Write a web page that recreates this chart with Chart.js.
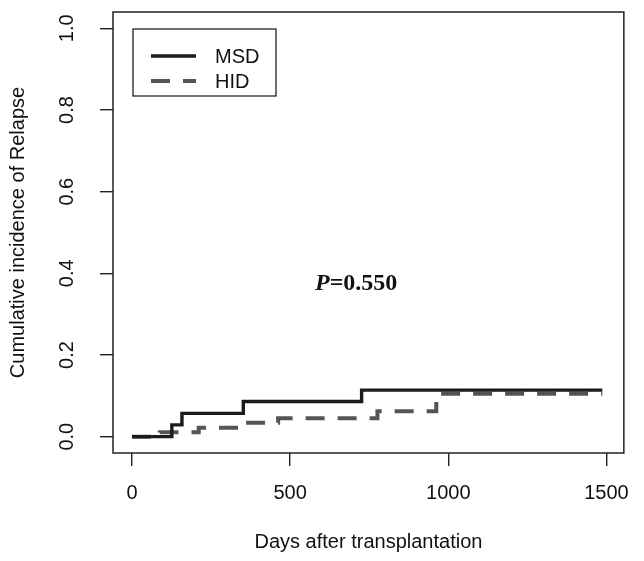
<!DOCTYPE html>
<html>
<head>
<meta charset="utf-8">
<script src="https://cdn.jsdelivr.net/npm/chart.js@4.4.1/dist/chart.umd.min.js"></script>
<style>
  html, body { margin: 0; padding: 0; background: #fff; }
</style>
</head>
<body>
<canvas id="relapse" width="644" height="561"></canvas>
<script>
// cumulative incidence of relapse
const msdDays = [0, 126, 158, 352, 726, 1487];
const msdCI   = [0, 0.029, 0.057, 0.086, 0.114, 0.114];
const hidDays = [0, 88, 211, 358, 462, 776, 962, 975, 1487];
const hidCI   = [0, 0.011, 0.022, 0.034, 0.045, 0.062, 0.085, 0.105, 0.105];

const groupNames = ['MSD', 'HID'];
const xTicks = [0, 500, 1000, 1500];
const yTicks = [0, 0.2, 0.4, 0.6, 0.8, 1.0];
const xTitle = 'Days after transplantation';
const yTitle = 'Cumulative incidence of Relapse';
const pLabel = ['P', '=0.550'];

const sans = '"Liberation Sans", Arial, sans-serif';
const serif = '"Liberation Serif", "Times New Roman", serif';

const toPoints = (xs, ys) => xs.map((x, i) => ({ x: x, y: ys[i] }));

// box, rotated y labels, titles, P value, legend (R base-graphics look)
const rStyle = {
	id: 'rStyle',
	afterDraw(chart) {
		const ctx = chart.ctx;
		const area = chart.chartArea;
		const yScale = chart.scales.y;
		ctx.save();

		ctx.strokeStyle = '#222';
		ctx.lineWidth = 1.5;
		ctx.strokeRect(area.left, area.top, area.right - area.left, area.bottom - area.top);

		ctx.fillStyle = '#111';
		ctx.font = '20px ' + sans;
		ctx.textAlign = 'center';
		ctx.textBaseline = 'middle';
		yTicks.forEach(v => {
			ctx.save();
			ctx.translate(67, yScale.getPixelForValue(v));
			ctx.rotate(-Math.PI / 2);
			ctx.fillText(v.toFixed(1), 0, 0);
			ctx.restore();
		});

		ctx.fillText(xTitle, (area.left + area.right) / 2, 542);
		ctx.save();
		ctx.translate(18, (area.top + area.bottom) / 2);
		ctx.rotate(-Math.PI / 2);
		ctx.fillText(yTitle, 0, 0);
		ctx.restore();

		// P value
		ctx.textAlign = 'left';
		ctx.font = 'italic bold 24px ' + serif;
		const px = 315;
		ctx.fillText(pLabel[0], px, 284);
		const w = ctx.measureText(pLabel[0]).width;
		ctx.font = 'bold 24px ' + serif;
		ctx.fillText(pLabel[1], px + w, 284);

		// legend
		ctx.strokeStyle = '#222';
		ctx.lineWidth = 1.3;
		ctx.strokeRect(133, 29, 143, 67);
		ctx.font = '20px ' + sans;
		chart.data.datasets.forEach((ds, i) => {
			const ly = 56 + i * 25;
			ctx.save();
			ctx.strokeStyle = ds.borderColor;
			ctx.lineWidth = ds.borderWidth;
			ctx.setLineDash(ds.borderDash || []);
			ctx.beginPath();
			ctx.moveTo(151, ly);
			ctx.lineTo(196, ly);
			ctx.stroke();
			ctx.restore();
			ctx.fillStyle = '#111';
			ctx.fillText(ds.label, 215, ly + 1);
		});

		ctx.restore();
	}
};

const ctx = document.getElementById('relapse').getContext('2d');

new Chart(ctx, {
	type: 'line',
	data: {
		datasets: [
			{
				label: groupNames[0],
				data: toPoints(msdDays, msdCI),
				borderColor: '#1b1b1b',
				borderWidth: 3.4,
				stepped: true,
				pointRadius: 0,
				fill: false
			},
			{
				label: groupNames[1],
				data: toPoints(hidDays, hidCI),
				borderColor: '#555555',
				borderWidth: 4,
				borderDash: [19, 13],
				stepped: true,
				pointRadius: 0,
				fill: false
			}
		]
	},
	options: {
		responsive: false,
		devicePixelRatio: 1,
		animation: false,
		layout: {
			padding: { top: 12, right: 9, left: 0, bottom: 0 }
		},
		plugins: {
			legend: { display: false },
			tooltip: { enabled: false }
		},
		scales: {
			x: {
				type: 'linear',
				min: -60,
				max: 1555,
				afterBuildTicks: s => { s.ticks = xTicks.map(v => ({ value: v })); },
				afterFit: s => { s.height = 108; },
				border: { display: false },
				grid: { drawOnChartArea: false, tickLength: 13, color: '#222', lineWidth: 1.4 },
				ticks: {
					color: '#111',
					font: { family: sans, size: 20 },
					padding: 15,
					maxRotation: 0,
					autoSkip: false,
					callback: v => String(v)
				}
			},
			y: {
				type: 'linear',
				min: -0.04,
				max: 1.04,
				afterBuildTicks: s => { s.ticks = yTicks.map(v => ({ value: v })); },
				afterFit: s => { s.width = 113; },
				border: { display: false },
				grid: { drawOnChartArea: false, tickLength: 13, color: '#222', lineWidth: 1.4 },
				ticks: { display: false }
			}
		}
	},
	plugins: [rStyle]
});
</script>
</body>
</html>
